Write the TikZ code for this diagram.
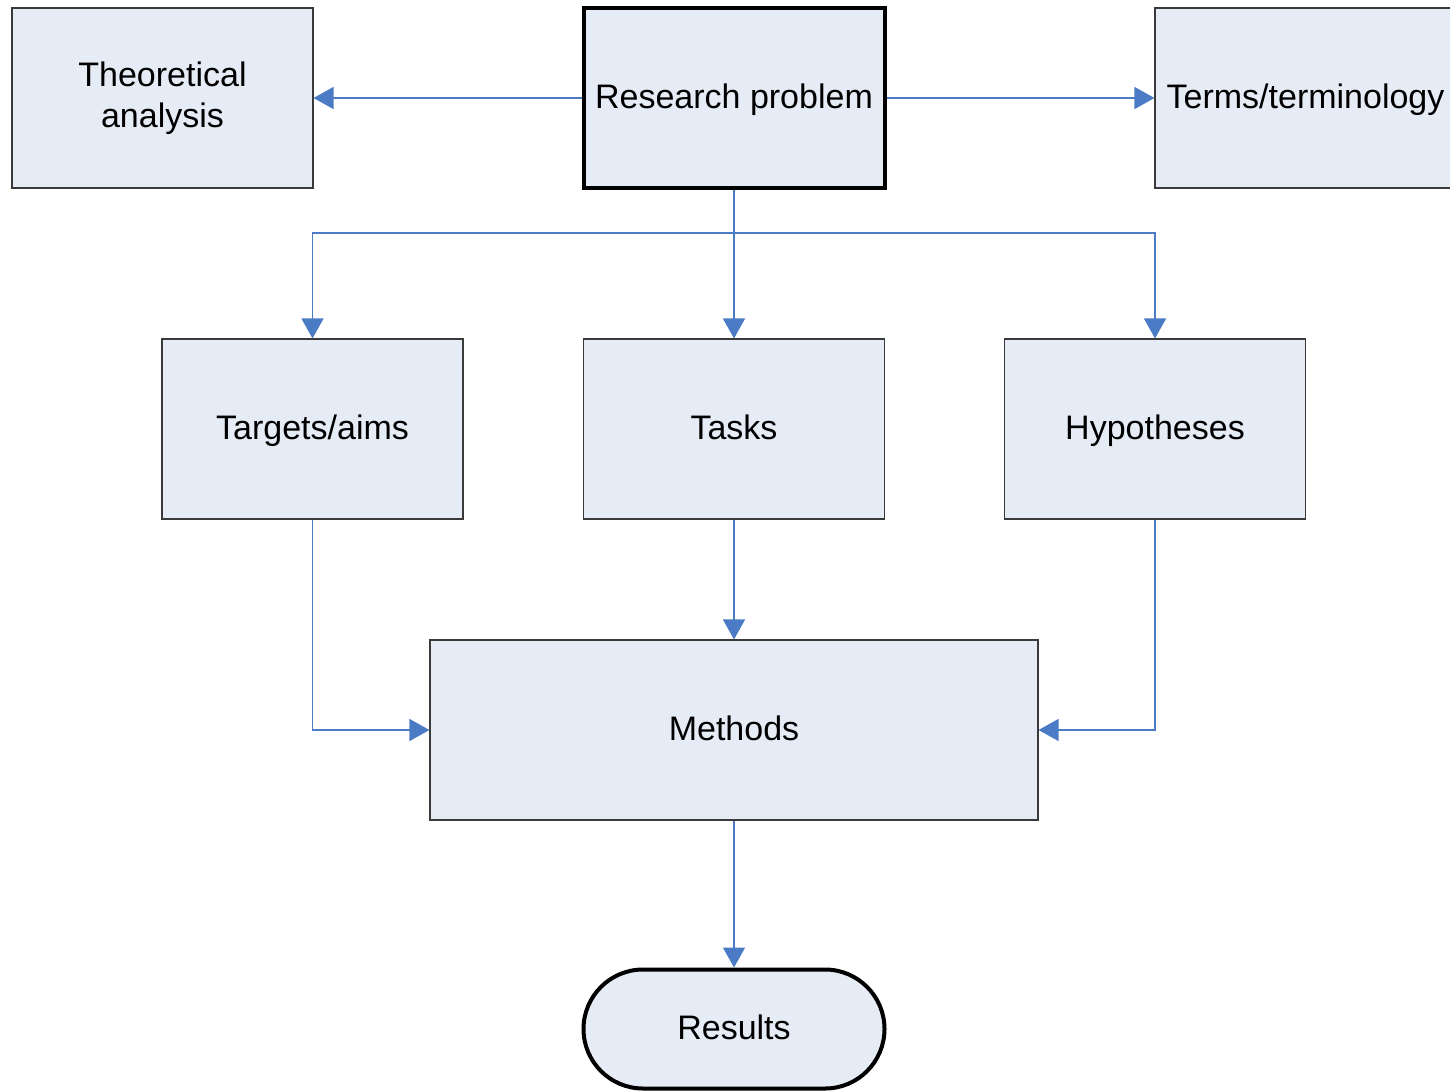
\documentclass[tikz,border=0pt]{standalone}
\usepackage{fontspec}
\setmainfont{Liberation Sans}
\usetikzlibrary{arrows.meta,shapes.misc}
\definecolor{boxfill}{HTML}{E6ECF6}
\definecolor{linkblue}{HTML}{4A7BC4}
\definecolor{boxedge}{HTML}{3A3A3A}
\begin{document}
\begin{tikzpicture}[x=1pt,y=-1pt,
  every node/.style={font=\fontsize{34}{41}\selectfont, align=center, inner sep=0pt},
  oneline/.style={text height=24pt, text depth=3pt},
  plainbox/.style={draw=boxedge, line width=1.1pt, fill=boxfill, minimum width=301pt, minimum height=180pt},
  boldbox/.style={draw=black, line width=4pt, fill=boxfill, minimum width=301pt, minimum height=180pt},
  pill/.style={draw=black, line width=4pt, fill=boxfill, rounded rectangle, minimum width=301pt, minimum height=119pt},
  link/.style={draw=linkblue, line width=1.3pt, -{Triangle[width=22pt,length=20pt]}}
]
\useasboundingbox (0,0) rectangle (1450,1090);
\node[plainbox] (theo) at (162.5,98) {Theoretical\\analysis};
\node[boldbox, oneline] (rp) at (734,98) {Research problem};
\node[plainbox, oneline] (terms) at (1305.5,98) {Terms/terminology};
\node[plainbox, oneline] (targ) at (312.5,429) {Targets/aims};
\node[plainbox, oneline] (tasks) at (734,429) {Tasks};
\node[plainbox, oneline] (hyp) at (1155,429) {Hypotheses};
\node[plainbox, oneline, minimum width=608pt] (meth) at (734,730) {Methods};
\node[pill, oneline] (res) at (734,1029) {Results};
\coordinate (split) at (734,233);
\draw[link] (rp.west) -- (theo.east);
\draw[link] (rp.east) -- (terms.west);
\draw[link] (rp.south) -- (tasks.north);
\draw[link] (split) -| (targ.north);
\draw[link] (split) -| (hyp.north);
\draw[link] (targ.south) |- (meth.west);
\draw[link] (tasks.south) -- (meth.north);
\draw[link] (hyp.south) |- (meth.east);
\draw[link] (meth.south) -- (res.north);
\end{tikzpicture}
\end{document}
